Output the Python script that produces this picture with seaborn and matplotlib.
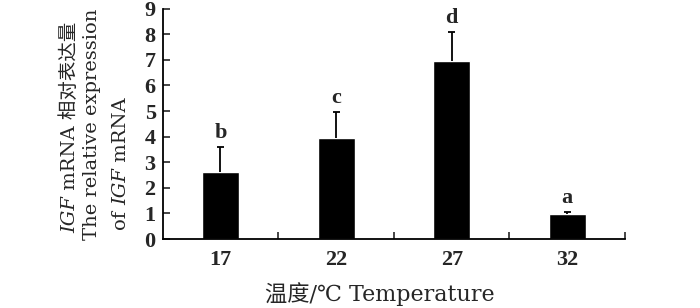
import numpy as np
import pandas as pd
import matplotlib
matplotlib.use("Agg")
import matplotlib.pyplot as plt
import seaborn as sns

# ----------------------------------------------------------
# data
# ----------------------------------------------------------
temps = ["17", "22", "27", "32"]
expression = [2.63, 3.93, 6.95, 0.98]
err_up = [0.97, 1.02, 1.15, 0.09]
letters = ["b", "c", "d", "a"]
y_ticks = [0, 1, 2, 3, 4, 5, 6, 7, 8, 9]

df = pd.DataFrame({"temp": temps, "expr": expression, "err": err_up})

sns.set_style("ticks")
plt.rcParams["font.family"] = ["Liberation Serif", "Noto Sans CJK SC"]

fig = plt.figure(figsize=(7, 3.08), dpi=100)
ax = fig.add_axes([0.2324, 0.224, 0.6606, 0.748])

sns.barplot(data=df, x="temp", y="expr", color="black", width=0.32,
            errorbar=None, saturation=1, ax=ax)

# upper-only error bars with a small cap
x = np.arange(len(temps))
tops = df["expr"] + df["err"]
ax.vlines(x, df["expr"], tops, color="black", lw=1.3)
ax.hlines(tops, x - 0.03, x + 0.03, color="black", lw=1.3)

for i, (v, e, s) in enumerate(zip(expression, err_up, letters)):
    ax.text(i, v + e + 0.15, s, ha="center", va="bottom", fontsize=16,
            family="Liberation Serif", fontweight="bold")

ax.set_xlim(-0.5, 3.5)
ax.set_ylim(0, 9)
ax.set_yticks(y_ticks)
ax.set_yticklabels([str(t) for t in y_ticks], fontsize=16, fontweight="bold")
ax.tick_params(axis="y", direction="in", length=5, width=1.2, pad=5)

ax.set_xticks(x)
ax.set_xticklabels(temps, fontsize=16, fontweight="bold")
ax.tick_params(axis="x", which="major", length=0, pad=8)
ax.set_xticks([0.5, 1.5, 2.5, 3.5], minor=True)
ax.tick_params(axis="x", which="minor", direction="in", length=5, width=1.2)

ax.set_xlabel("")
ax.set_ylabel("")
sns.despine(ax=ax)
for sp in ["left", "bottom"]:
    ax.spines[sp].set_linewidth(1.3)
    ax.spines[sp].set_color("black")

fig.text(380 / 700, 1 - 294 / 308, "温度/℃ Temperature", ha="center", va="center",
         fontsize=16, family=["DejaVu Serif", "Noto Sans CJK SC"])

# ----------------------------------------------------------
# rotated y label built from pieces (italic gene name)
# ----------------------------------------------------------
renderer = fig.canvas.get_renderer()
lab_font = ["DejaVu Serif", "Noto Sans CJK SC"]
lines = [
    (70, 233, [("IGF", "italic"), (" mRNA 相对表达量", "normal")]),
    (92, 240, [("The relative expression", "normal")]),
    (121, 230, [("of ", "normal"), ("IGF", "italic"), (" mRNA", "normal")]),
]
for xc, ybot, pieces in lines:
    ypix = 308 - ybot
    for txt, style in pieces:
        t = fig.text(xc / 700, ypix / 308, txt, rotation=90, ha="center", va="bottom",
                     fontsize=14, style=style, family=lab_font)
        ypix += t.get_window_extent(renderer).height

fig.savefig("out.png", dpi=100)
